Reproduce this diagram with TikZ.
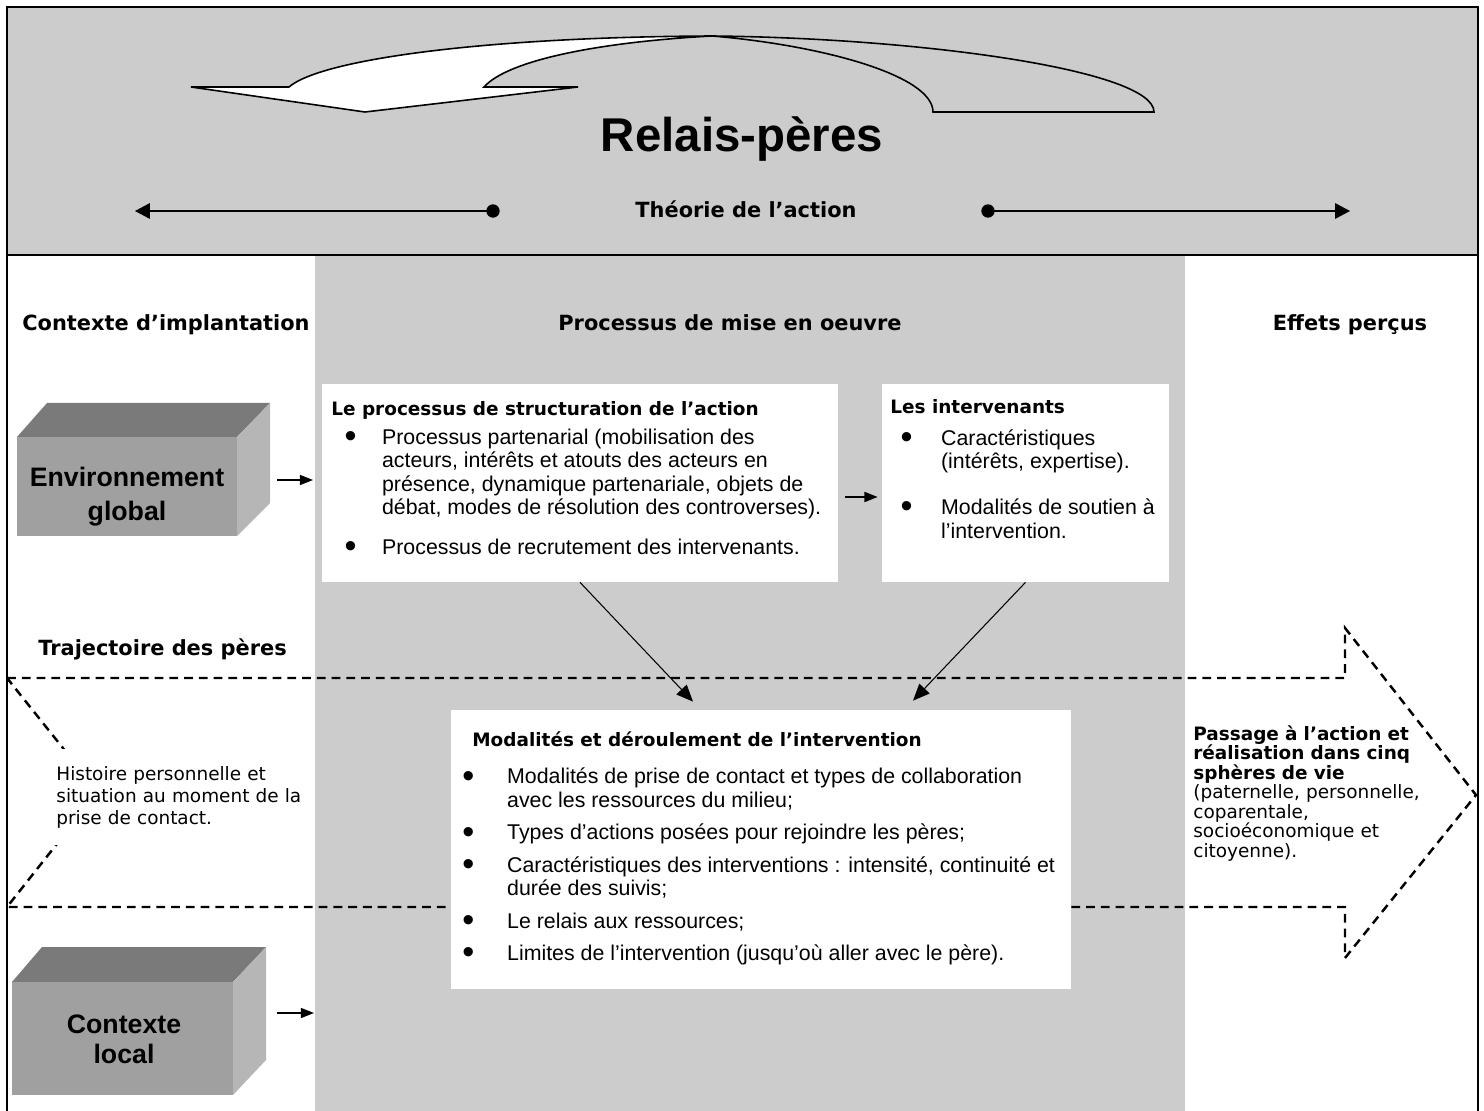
\documentclass[tikz,border=0pt]{standalone}
\usepackage{fontspec}
\usepackage{graphicx}
\setmainfont{Liberation Sans}
\newfontfamily\verd{DejaVu Sans}
\usetikzlibrary{arrows.meta,fit,positioning}

\definecolor{bandgray}{HTML}{CCCCCC}
\definecolor{cubefront}{HTML}{A0A0A0}
\definecolor{cubetop}{HTML}{7A7A7A}
\definecolor{cubeside}{HTML}{B6B6B6}

\newcommand{\boxhd}{\verd\bfseries\fontsize{10.5}{13.4}\selectfont}
\newcommand{\puce}[2]{\makebox[#1][l]{\hspace*{#2}\raisebox{-1.9pt}{\scalebox{1.6}{\textbullet}}}}

\tikzset{
  wbox/.style={fill=white, inner sep=0pt},
  colhd/.style={font=\verd\bfseries\fontsize{11.9}{14}\selectfont, anchor=base, inner sep=0pt},
  bodytxt/.style={font=\fontsize{12.15}{13.4}\selectfont, anchor=base west, inner sep=0pt},
  sidetxt/.style={font=\verd\fontsize{10.5}{11.1}\selectfont, anchor=base west, align=left},
  cubetxt/.style={font=\bfseries\fontsize{15.2}{19.3}\selectfont, align=center, inner sep=0pt},
  arr/.style={-{Triangle[length=7.5pt,width=5.7pt]}, line width=0.85pt},
  darr/.style={-{Triangle[length=9.5pt,width=8pt]}, line width=0.6pt},
  tharr/.style={-{Triangle[length=8.5pt,width=8.9pt]}, line width=0.6pt},
  dashpath/.style={dash pattern=on 5pt off 3.4pt, line width=1.4pt},
}

\begin{document}
\begin{tikzpicture}[x=0.02cm, y=-0.02cm]
  \useasboundingbox (0,0) rectangle (1484,1111);

  % Background: middle column and top band
  \fill[bandgray] (315,255) rectangle (1185,1111);
  \filldraw[fill=bandgray, line width=0.9pt] (7,7) rectangle (1478,255);
  \draw[line width=1.5pt] (7,255) -- (1478,255);
  \draw[line width=0.9pt] (7,7) -- (7,1111);
  \draw[line width=0.9pt] (1478,7) -- (1478,1111);

  % Curved arrow (front face white, back face open)
  \filldraw[fill=white, line width=0.9pt] (191,87) -- (289,87)
    .. controls (320,60) and (480,37) .. (712,36)
    .. controls (600,42) and (508,60) .. (484,87)
    -- (578,87) -- (365,112) -- cycle;
  \draw[line width=0.9pt] (712,36) .. controls (920,38) and (1154,70) .. (1154,112)
    -- (933,112) .. controls (933,75) and (820,45) .. (712,36);

  \node[font=\bfseries\fontsize{27}{32}\selectfont, anchor=base, inner sep=0pt] (title) at (742,152) {Relais-pères};

  % Theorie de l'action
  \node[colhd] (theo) at (746,218) {Théorie de l’action};
  \coordinate (dotL) at (493,211);
  \coordinate (dotR) at (988,211);
  \coordinate (tipL) at (135,211);
  \coordinate (tipR) at (1350,211);
  \draw[tharr] (dotL) -- (tipL);
  \draw[tharr] (dotR) -- (tipR);
  \fill (dotL) circle[radius=3.8pt];
  \fill (dotR) circle[radius=3.8pt];

  % Column headers
  \node[colhd] (ctx) at (166,331) {Contexte d’implantation};
  \node[colhd] (proc) at (730,331) {Processus de mise en oeuvre};
  \node[colhd] (eff) at (1350,331) {Effets perçus};

  % Environnement global (cube)
  \fill[cubetop] (17,437) -- (47,403) -- (270,403) -- (237,437) -- cycle;
  \fill[cubeside] (237,437) -- (270,403) -- (270,503) -- (237,536) -- cycle;
  \node[fill=cubefront, inner sep=0pt, fit={(17,437) (237,536)}] (envf) {};
  \node[cubetxt] (env) at (127,497) {Environnement\\global};

  % Contexte local (cube)
  \fill[cubetop] (12,982) -- (42,947) -- (266,947) -- (233,982) -- cycle;
  \fill[cubeside] (233,982) -- (266,947) -- (266,1060) -- (233,1095) -- cycle;
  \node[fill=cubefront, inner sep=0pt, fit={(12,982) (233,1095)}] (locf) {};
  \node[cubetxt, font=\bfseries\fontsize{15.2}{17}\selectfont] (loc) at (124,1039) {Contexte\\local};

  % Boxes of the process
  \node[wbox, fit={(322,384) (838,582)}] (struct) {};
  \node[bodytxt] (struct-t) at (331,416) {\begin{tabular}[t]{@{}l@{}l@{}}
    \multicolumn{2}{@{}l@{}}{\boxhd Le processus de structuration de l’action}\\[2.6pt]
    \puce{28.9pt}{7.5pt} & Processus partenarial (mobilisation des\\
     & acteurs, intérêts et atouts des acteurs en\\
     & présence, dynamique partenariale, objets de\\
     & débat, modes de résolution des controverses).\\[9pt]
    \puce{28.9pt}{7.5pt} & Processus de recrutement des intervenants.
  \end{tabular}};

  \node[wbox, fit={(882,384) (1169,582)}] (interv) {};
  \node[bodytxt] (interv-t) at (890,414) {\begin{tabular}[t]{@{}l@{}l@{}}
    \multicolumn{2}{@{}l@{}}{\boxhd Les intervenants}\\[4.3pt]
    \puce{28.9pt}{5.8pt} & Caractéristiques\\
     & (intérêts, expertise).\\[12.7pt]
    \puce{28.9pt}{5.8pt} & Modalités de soutien à\\
     & l’intervention.
  \end{tabular}};

  % Trajectoire des peres (dashed arrow)
  \draw[dashpath] (7,678) -- (1345,678) -- (1345,628) -- (1476,795)
    -- (1345,958) -- (1345,907) -- (7,907) -- (98,792) -- cycle;
  \node[colhd, anchor=base west] (traj) at (38,655) {Trajectoire des pères};

  \node[wbox, fit={(451,710) (1071,989)}] (modal) {};
  \node[bodytxt] (modal-t) at (462,746) {\begin{tabular}[t]{@{}l@{}l@{}}
    \multicolumn{2}{@{}l@{}}{\hspace*{5.7pt}\boxhd Modalités et déroulement de l’intervention}\\[8.2pt]
    \puce{25.5pt}{0pt} & Modalités de prise de contact et types de collaboration\\
     & avec les ressources du milieu;\\[5pt]
    \puce{25.5pt}{0pt} & Types d’actions posées pour rejoindre les pères;\\[5pt]
    \puce{25.5pt}{0pt} & Caractéristiques des interventions : intensité, continuité et\\
     & durée des suivis;\\[5pt]
    \puce{25.5pt}{0pt} & Le relais aux ressources;\\[5pt]
    \puce{25.5pt}{0pt} & Limites de l’intervention (jusqu’où aller avec le père).
  \end{tabular}};

  \node[sidetxt, fill=white, font=\verd\fontsize{10.5}{12.8}\selectfont, inner xsep=2.3pt, inner ysep=9.4pt, text width=250*0.02cm] (hist) at (52,780)
    {Histoire personnelle et\\situation au moment de la\\prise de contact.};

  \node[sidetxt, inner sep=0pt, text width=280*0.02cm] (pass) at (1193,740)
    {{\bfseries Passage à l’action et\\réalisation dans cinq\\sphères de vie}\\(paternelle, personnelle,\\coparentale,\\socioéconomique et\\citoyenne).};

  % Connectors
  \coordinate (env-out) at (277,480);
  \coordinate (col-in1) at (313,480);
  \coordinate (loc-out) at (277,1013);
  \coordinate (col-in2) at (314,1013);
  \draw[arr] (env-out) -- (col-in1);
  \draw[arr] (loc-out) -- (col-in2);
  \draw[arr] ([shift={(7,14)}]struct.east) -- ([shift={(-4,14)}]interv.west);
  \draw[darr] (struct.south) -- ([shift={(-68,-8)}]modal.north);
  \draw[darr] (interv.south) -- ([shift={(152,-9)}]modal.north);

\end{tikzpicture}
\end{document}
